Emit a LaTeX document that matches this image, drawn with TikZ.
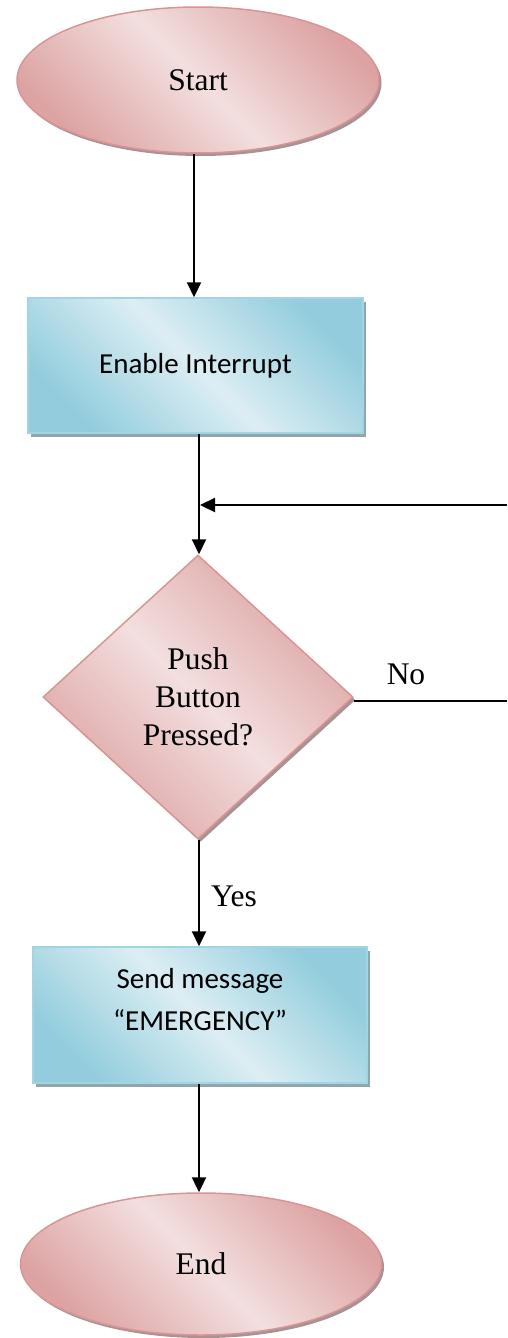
\documentclass[tikz,border=0pt]{standalone}
\usepackage{fontspec}
\setmainfont{Liberation Serif}
\newfontfamily\calibri{Carlito}
\usetikzlibrary{shapes.geometric,arrows.meta,shadows}
\definecolor{pinkL}{HTML}{F3DFDF}
\definecolor{pinkD}{HTML}{DDA3A3}
\definecolor{pinkB}{HTML}{D99594}
\definecolor{pinkS}{HTML}{A89294}
\definecolor{blueL}{HTML}{DCEEF3}
\definecolor{blueD}{HTML}{93CDDD}
\definecolor{blueB}{HTML}{A3D4E1}
\definecolor{blueS}{HTML}{8FA6AE}
\tikzset{
  terminal/.style={ellipse, draw=pinkB, line width=1.5pt, inner sep=0pt,
    left color=pinkD, right color=pinkD, middle color=pinkL, shading angle=-45,
    drop shadow={shadow xshift=2.5pt, shadow yshift=-3pt, fill=pinkS, opacity=1},
    font=\fontsize{31.5}{38}\selectfont},
  decision/.style={diamond, draw=pinkB, line width=1.5pt, inner sep=0pt, align=center,
    left color=pinkD, right color=pinkD, middle color=pinkL, shading angle=-45,
    drop shadow={shadow xshift=2.5pt, shadow yshift=-3pt, fill=pinkS, opacity=1},
    font=\fontsize{31.5}{38}\selectfont},
  process/.style={rectangle, draw=blueB, line width=1.5pt, inner sep=0pt, align=center,
    left color=blueD, right color=blueD, middle color=blueL, shading angle=-45,
    drop shadow={shadow xshift=3pt, shadow yshift=-4pt, fill=blueS, opacity=1},
    font=\calibri\fontsize{29}{42}\selectfont},
  conn/.style={line width=2.3pt, -{Triangle[length=15pt,width=14pt]}},
  thinline/.style={line width=1.3pt},
  lbl/.style={font=\fontsize{31.5}{38}\selectfont, inner sep=0pt}
}
\begin{document}
\begin{tikzpicture}[x=1pt, y=-1pt]
\useasboundingbox (0,0) rectangle (507,1338);
\node[terminal, minimum width=362pt, minimum height=146pt] (start) at (198,80) {Start};
\node[process, minimum width=335pt, minimum height=135pt] (enable) at (195.5,365.5) {Enable Interrupt};
\node[decision, minimum width=310pt, minimum height=284pt] (dec) at (198,697) {Push\\Button\\Pressed?};
\node[process, minimum width=334pt, minimum height=136pt] (send) at (200,1015) {Send message\\“EMERGENCY”\\[-10pt]\mbox{}};
\node[terminal, minimum width=361pt, minimum height=142pt] (end) at (201,1264) {End};
\coordinate (ret) at (507,505);
\coordinate (noend) at (507,701);
\coordinate (join) at (199,505);
\draw[conn] (194,0 |- start.south) -- (194,0 |- enable.north);
\draw[line width=2.3pt] (199,0 |- enable.south) -- (join);
\draw[conn] (join) -- (199,0 |- dec.north);
\draw[conn] (ret) -- ([xshift=1pt]join);
\draw[thinline] (dec.east |- noend) -- (noend);
\node[lbl] (no) at (406,674) {No};
\draw[conn] (199,0 |- dec.south) -- (199,0 |- send.north);
\node[lbl] (yes) at (234,896) {Yes};
\draw[conn] (199,0 |- send.south) -- (199,0 |- end.north);
\end{tikzpicture}
\end{document}
